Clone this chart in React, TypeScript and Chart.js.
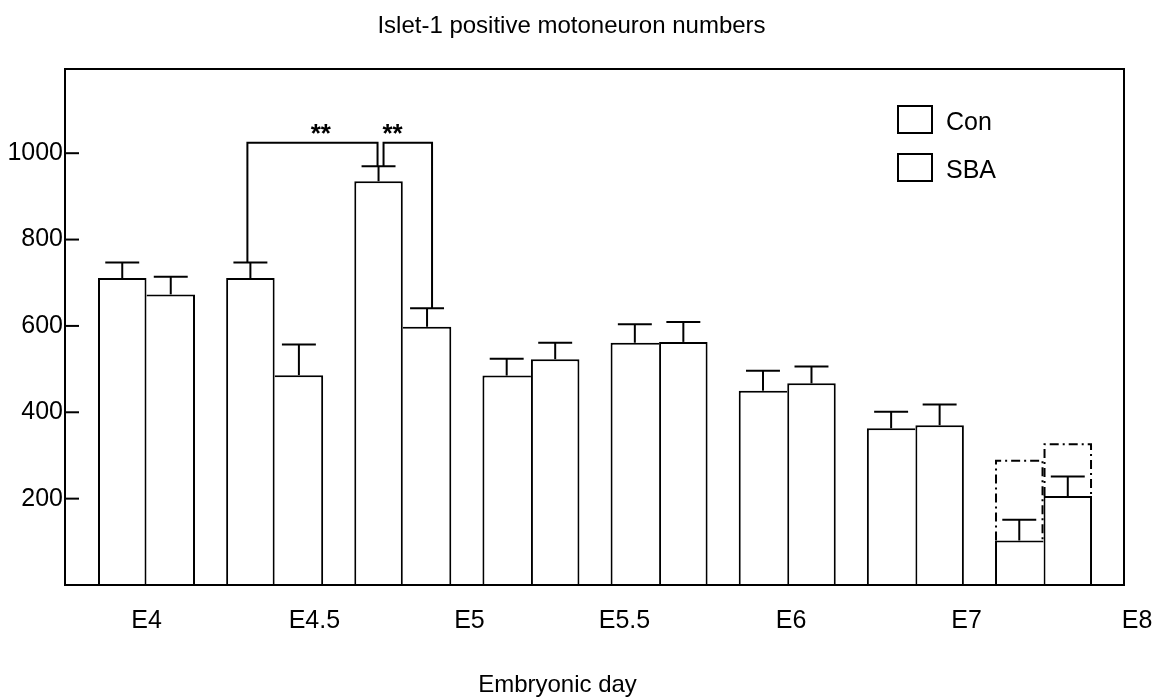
import React, { useEffect, useRef } from "react";
import { Chart, registerables } from "chart.js";

Chart.register(...registerables);

// ---- data ----
const groups = [1, 2, 3, 4, 5, 6, 7, 8];
const conValues = [711, 711, 935, 485, 561, 450, 363, 103];
const conErrors = [36, 36, 35, 39, 43, 46, 38, 48];
const sbaValues = [673, 486, 598, 523, 563, 467, 370, 206];
const sbaErrors = [41, 71, 43, 38, 46, 39, 48, 45];
const conUpper: (number | null)[] = [null, null, null, null, null, null, null, 288];
const sbaUpper: (number | null)[] = [null, null, null, null, null, null, null, 326];
const xTickLabels = ["E4", "E4.5", "E5", "E5.5", "E6", "E7", "E8"];
const xTickValues = [1.0, 2.31, 3.52, 4.73, 6.03, 7.4, 8.73];
const yTickValues = [200, 400, 600, 800, 1000];
const sigLabels = ["**", "**"];
const sigFrom = [[0, 1], [0, 2]]; // [series, group index]
const sigTo = [[0, 2], [1, 2]];
const sigTop = [1024, 1024];
const sigLabelX = [2.36, 2.92];
const sigLabelY = [1058, 1058];
const titleText = "Islet-1 positive motoneuron numbers";
const xTitleText = "Embryonic day";
const seriesNames = ["Con", "SBA"];

const FONT = "'Liberation Sans', Arial, Helvetica, sans-serif";

const series = [
  { vals: conValues, errs: conErrors, upper: conUpper },
  { vals: sbaValues, errs: sbaErrors, upper: sbaUpper },
];

const overlay = {
  id: "overlay",
  afterDatasetsDraw(chart: any) {
    const { ctx, chartArea: a, scales } = chart;
    const x = scales.x;
    const y = scales.y;
    const line = (x1: number, y1: number, x2: number, y2: number) => {
      ctx.beginPath();
      ctx.moveTo(x1, y1);
      ctx.lineTo(x2, y2);
      ctx.stroke();
    };
    ctx.save();
    ctx.strokeStyle = "#000";
    ctx.fillStyle = "#000";
    ctx.lineWidth = 2;
    ctx.lineCap = "butt";

    // frame
    ctx.strokeRect(a.left, a.top, a.right - a.left, a.bottom - a.top);

    // inward y tick marks
    yTickValues.forEach((v) => {
      const py = y.getPixelForValue(v);
      line(a.left, py, a.left + 14, py);
    });

    // error bars (upper only)
    series.forEach((s, di) => {
      const meta = chart.getDatasetMeta(di);
      meta.data.forEach((bar: any, i: number) => {
        const top = y.getPixelForValue(s.vals[i]);
        const cap = y.getPixelForValue(s.vals[i] + s.errs[i]);
        const hw = bar.width * 0.35;
        line(bar.x, top, bar.x, cap);
        line(bar.x - hw, cap, bar.x + hw, cap);
      });
    });

    // dash-dot upper boxes
    ctx.setLineDash([9, 4, 2, 4]);
    series.forEach((s, di) => {
      const meta = chart.getDatasetMeta(di);
      meta.data.forEach((bar: any, i: number) => {
        const u = s.upper[i];
        if (u == null) return;
        const l = bar.x - bar.width / 2 + 1;
        const r = bar.x + bar.width / 2 - 1;
        const t = y.getPixelForValue(u);
        const b = y.getPixelForValue(s.vals[i]);
        ctx.beginPath();
        ctx.moveTo(l, b);
        ctx.lineTo(l, t);
        ctx.lineTo(r, t);
        ctx.lineTo(r, b);
        ctx.stroke();
      });
    });
    ctx.setLineDash([]);

    // significance brackets
    const legOffset = [[-3, -1], [5, 5]];
    sigLabels.forEach((lab, k) => {
      const [sa, ia] = sigFrom[k];
      const [sb, ib] = sigTo[k];
      const A = chart.getDatasetMeta(sa).data[ia];
      const B = chart.getDatasetMeta(sb).data[ib];
      const ax = A.x + legOffset[k][0];
      const bx = B.x + legOffset[k][1];
      const ay = y.getPixelForValue(series[sa].vals[ia] + series[sa].errs[ia]);
      const by = y.getPixelForValue(series[sb].vals[ib] + series[sb].errs[ib]);
      const ty = y.getPixelForValue(sigTop[k]);
      ctx.beginPath();
      ctx.moveTo(ax, ay);
      ctx.lineTo(ax, ty);
      ctx.lineTo(bx, ty);
      ctx.lineTo(bx, by);
      ctx.stroke();
      ctx.font = `bold 26px ${FONT}`;
      ctx.textAlign = "center";
      ctx.textBaseline = "alphabetic";
      ctx.fillText(lab, x.getPixelForValue(sigLabelX[k]), y.getPixelForValue(sigLabelY[k]) + 14);
    });

    // legend
    const lx = a.right - 226;
    chart.data.datasets.forEach((ds: any, i: number) => {
      const ly = a.top + 37 + i * 48;
      ctx.lineWidth = 2;
      ctx.strokeRect(lx, ly, 34, 27);
      ctx.font = `25px ${FONT}`;
      ctx.textAlign = "left";
      ctx.textBaseline = "alphabetic";
      ctx.fillText(ds.label, lx + 48, ly + 24);
    });

    // x tick labels
    ctx.font = `25px ${FONT}`;
    ctx.textAlign = "center";
    ctx.textBaseline = "alphabetic";
    xTickLabels.forEach((t, i) => {
      ctx.fillText(t, x.getPixelForValue(xTickValues[i]), a.bottom + 43);
    });

    // titles
    ctx.font = `24px ${FONT}`;
    ctx.fillText(titleText, 571.5, 33);
    ctx.fillText(xTitleText, 557.5, 692);

    ctx.restore();
  },
};

export default function App() {
  const ref = useRef<HTMLCanvasElement | null>(null);

  useEffect(() => {
    if (!ref.current) return;
    Chart.defaults.font.family = FONT;
    const chart = new Chart(ref.current, {
      type: "bar",
      data: {
        labels: groups,
        datasets: [
          {
            label: seriesNames[0],
            data: conValues,
            backgroundColor: "#ffffff",
            borderColor: "#000000",
            borderWidth: (c: any) => ({
              top: 2,
              left: 2,
              right: conValues[c.dataIndex] >= sbaValues[c.dataIndex] ? 2 : 0,
              bottom: 0,
            }),
            borderSkipped: "start",
            categoryPercentage: 0.757,
            barPercentage: 1.0,
          },
          {
            label: seriesNames[1],
            data: sbaValues,
            backgroundColor: "#ffffff",
            borderColor: "#000000",
            borderWidth: (c: any) => ({
              top: 2,
              left: conValues[c.dataIndex] >= sbaValues[c.dataIndex] ? 0 : 2,
              right: 2,
              bottom: 0,
            }),
            borderSkipped: "start",
            categoryPercentage: 0.757,
            barPercentage: 1.0,
          },
        ],
      },
      options: {
        responsive: false,
        animation: false,
        events: [],
        layout: { padding: { left: 0, top: 69, right: 41, bottom: 114 } },
        plugins: {
          legend: { display: false },
          title: { display: false },
          tooltip: { enabled: false },
        },
        scales: {
          x: {
            type: "linear",
            display: false,
            offset: false,
            min: 0.364,
            max: 8.628,
            afterBuildTicks: (scale: any) => {
              scale.ticks = groups.map((v) => ({ value: v }));
            },
            grid: { display: false },
          },
          y: {
            type: "linear",
            min: 0,
            max: 1195,
            afterBuildTicks: (scale: any) => {
              scale.ticks = yTickValues.map((v) => ({ value: v }));
            },
            afterFit: (scale: any) => {
              scale.width = 65;
            },
            grid: { display: false, drawTicks: false },
            border: { display: false },
            ticks: {
              color: "#000",
              padding: 2,
              font: { size: 25, family: FONT },
              autoSkip: false,
              callback: (v: any) => String(v),
            },
          },
        },
      },
      plugins: [overlay],
    });
    return () => chart.destroy();
  }, []);

  return (
    <div style={{ position: "fixed", left: 0, top: 0, width: 1165, height: 699, background: "#fff" }}>
      <canvas ref={ref} width={1165} height={699} style={{ display: "block" }} />
    </div>
  );
}
